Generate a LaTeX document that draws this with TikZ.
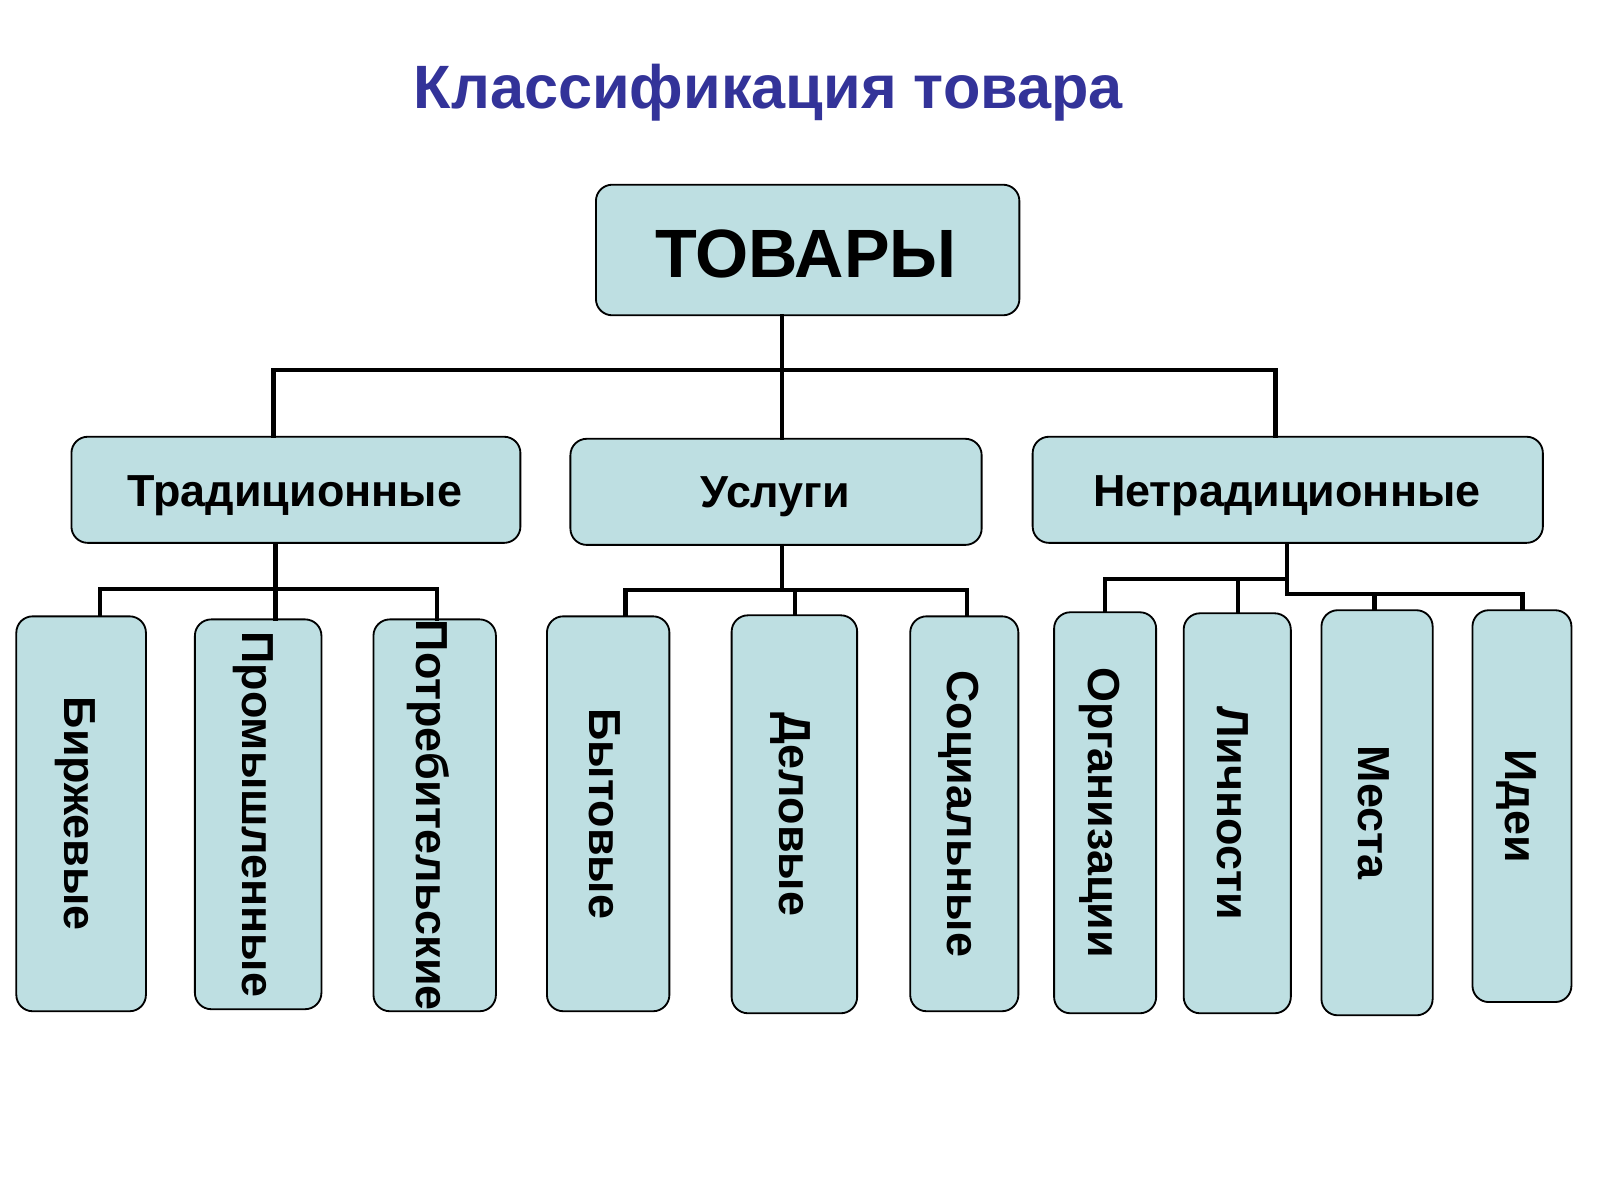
\documentclass[tikz,border=0pt]{standalone}
\usepackage{fontspec}
\usepackage{graphicx}
\usetikzlibrary{calc}
\setmainfont{Liberation Sans}
\definecolor{boxfill}{RGB}{190,223,226}
\definecolor{titleblue}{RGB}{51,51,153}
\tikzset{
  box/.style={draw=black, line width=1.8pt, fill=boxfill, rounded corners=16pt, inner sep=0pt},
  conn/.style={draw=black, line width=4pt, line cap=rect},
  lvltext/.style={font=\fontsize{44}{50}\bfseries\selectfont},
  leaftext/.style={font=\fontsize{44}{50}\bfseries\selectfont, rotate=-90, inner sep=0pt},
}
\begin{document}
\begin{tikzpicture}[x=1pt,y=-1pt]
\useasboundingbox (0,0) rectangle (1568,1176);
\fill[white] (0,0) rectangle (1568,1176);
% title
\node[text=titleblue, font=\fontsize{60}{66}\bfseries\selectfont] (title) at (753,91) {Классификация товара};
% top
\node[box, minimum width=415pt, minimum height=128pt] (tov) at (791.5,245) {};
\node[font=\fontsize{67}{72}\bfseries\selectfont] (tovt) at (790,249) {ТОВАРЫ};
% level 1
\node[box, minimum width=440pt, minimum height=104pt] (trad) at (290,480) {};
\node[lvltext] (tradt) at (289,486) {Традиционные};
\node[box, minimum width=403pt, minimum height=104pt] (usl) at (760.5,482) {};
\node[lvltext] (uslt) at (760,487) {Услуги};
\node[box, minimum width=500pt, minimum height=104pt] (net) at (1262,480) {};
\node[lvltext] (nett) at (1261,486) {Нетрадиционные};
% leaves
\node[box, minimum width=127pt, minimum height=387pt] (b1) at (79.5,797.5) {};
\node[leaftext] (t1) at ($(b1.center)+(-6,0)$) {Биржевые};
\node[box, minimum width=124pt, minimum height=382pt] (b2) at (253,798) {};
\node[leaftext] (t2) at ($(b2.center)+(-5,0)$) {Промышленные};
\node[box, minimum width=120pt, minimum height=384pt] (b3) at (426,799) {};
\node[leaftext] (t3) at ($(b3.center)+(-6,0)$) {Потребительские};
\node[box, minimum width=120pt, minimum height=387pt] (b4) at (596,797.5) {};
\node[leaftext] (t4) at ($(b4.center)+(-3,0)$) {Бытовые};
\node[box, minimum width=123pt, minimum height=390pt] (b5) at (778.5,798) {};
\node[leaftext] (t5) at ($(b5.center)+(-4,0)$) {Деловые};
\node[box, minimum width=106pt, minimum height=387pt] (b6) at (945,797.5) {};
\node[leaftext] (t6) at ($(b6.center)+(-5,0)$) {Социальные};
\node[box, minimum width=100pt, minimum height=393pt] (b7) at (1083,796.5) {};
\node[leaftext] (t7) at ($(b7.center)+(-5,0)$) {Организации};
\node[box, minimum width=105pt, minimum height=392pt] (b8) at (1212.5,797) {};
\node[leaftext] (t8) at ($(b8.center)+(-4,0)$) {Личности};
\node[box, minimum width=109pt, minimum height=397pt] (b9) at (1349.5,796.5) {};
\node[leaftext] (t9) at ($(b9.center)+(-3,0)$) {Места};
\node[box, minimum width=97pt, minimum height=384pt] (b10) at (1491.5,790) {};
\node[leaftext] (t10) at ($(b10.center)+(-5,0)$) {Идеи};
% junction coordinates
\coordinate (j0) at (766,363);
\coordinate (hL) at (268,363);
\coordinate (hR) at (1250,363);
\coordinate (ja) at (270,577);
\coordinate (jaL) at (98,577);
\coordinate (jaR) at (428,577);
\coordinate (jb) at (766,578);
\coordinate (jbL) at (613,578);
\coordinate (jbM) at (779,578);
\coordinate (jbR) at (948,578);
\coordinate (jc) at (1261,582);
\coordinate (jcU) at (1261,567);
\coordinate (jcL) at (1083,567);
\coordinate (jcM) at (1213,567);
\coordinate (jcN) at (1347,582);
\coordinate (jcR) at (1492,582);
% connectors level 0 -> 1
\draw[conn] (tov.south -| j0) -- (usl.north -| j0);
\draw[conn] (trad.north -| hL) -- (hL) -- (hR) -- (net.north -| hR);
% traditional
\draw[conn] (trad.south -| ja) -- (b2.north -| ja);
\draw[conn] (b1.north -| jaL) -- (jaL) -- (jaR) -- (b3.north -| jaR);
% services
\draw[conn] (usl.south -| jb) -- (jb);
\draw[conn] (b4.north -| jbL) -- (jbL) -- (jbR) -- (b6.north -| jbR);
\draw[conn] (jbM) -- (b5.north -| jbM);
% non-traditional
\draw[conn] (net.south -| jc) -- (jc);
\draw[conn] (b7.north -| jcL) -- (jcL) -- (jcU);
\draw[conn] (jcM) -- (b8.north -| jcM);
\draw[conn] (jc) -- (jcR) -- (b10.north -| jcR);
\draw[conn] (jcN) -- (b9.north -| jcN);
\end{tikzpicture}
\end{document}
